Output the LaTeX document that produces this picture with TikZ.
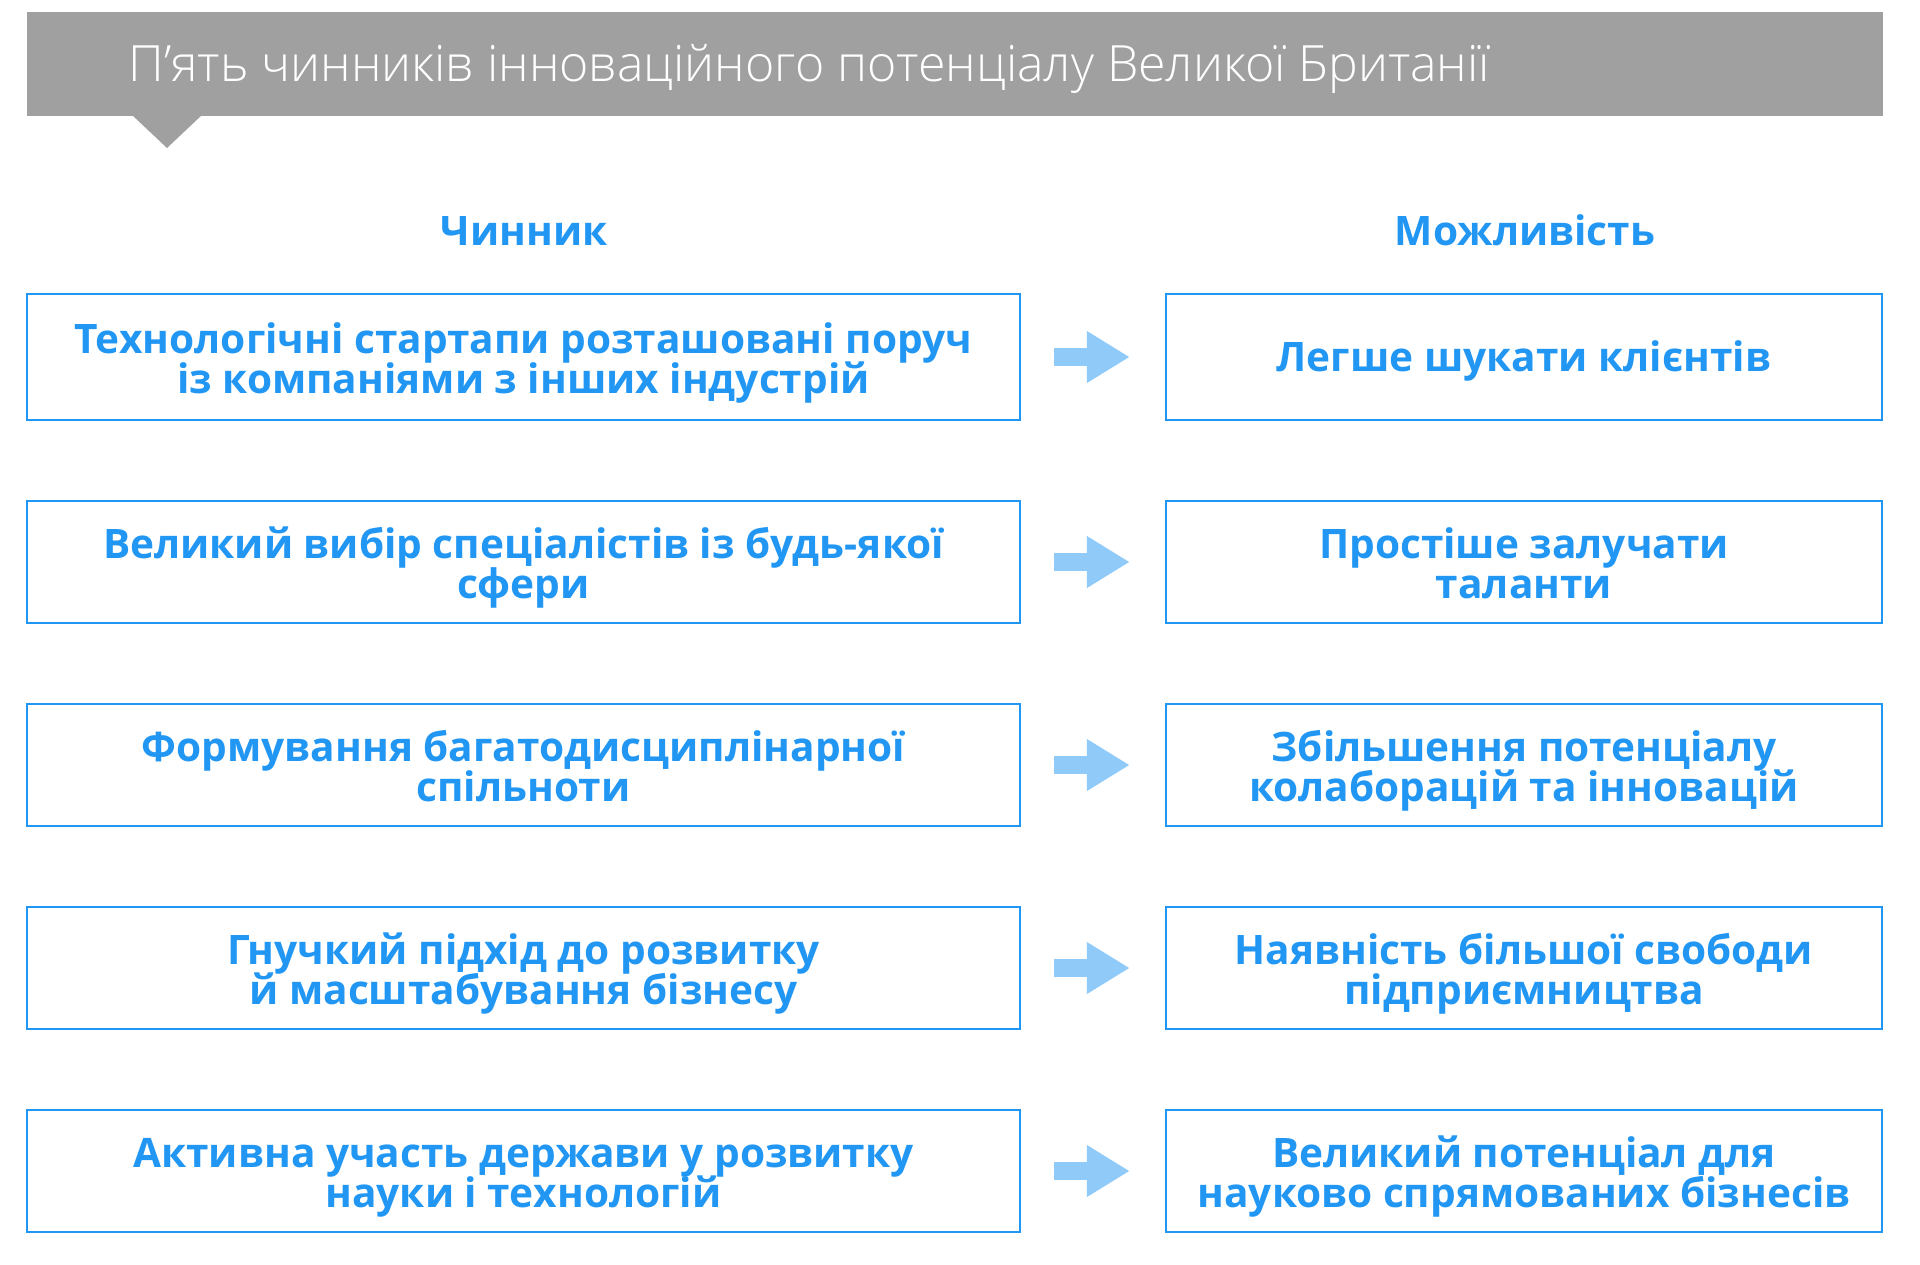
\documentclass[tikz,border=0pt]{standalone}
\usepackage{fontspec}
\setmainfont{Open Sans}
\IfFontExistsTF{Open Sans Light}{\newfontfamily\titlefont{Open Sans Light}}{\newfontfamily\titlefont{Open Sans}}
\usetikzlibrary{arrows.meta, positioning}
\definecolor{UKBlue}{RGB}{33, 150, 243}
\definecolor{UKGray}{RGB}{160, 160, 160}
\newcommand\boxfont{\fontsize{20.3}{20}\selectfont\bfseries\lineskiplimit -100pt\relax}

\begin{document}
\begin{tikzpicture}[x=0.5pt,y=-0.5pt,
  factor/.style={draw=UKBlue, line width=1.25pt, text=UKBlue, align=center, inner sep=0pt,
    minimum width=496.5pt, minimum height=61pt, text height=41pt, text depth=5pt, font=\boxfont},
  chance/.style={factor, minimum width=358pt},
  head/.style={text=UKBlue, inner sep=0pt, anchor=base, font=\boxfont},
  push/.style={UKBlue!50, line width=9pt, -{Triangle[length=21.5pt,width=24.5pt]},
    shorten <=16.5pt, shorten >=17.5pt}]
  \path[use as bounding box] (0,0) rectangle (1920,1264);
  % title bar
  \fill[UKGray] (27,12) rectangle (1883,116);
  \fill[UKGray] (132,115) -- (167,148) -- (202,115) -- cycle;
  \node[anchor=base west, inner sep=0pt, text=white, font=\titlefont\fontsize{25}{30}\selectfont] (title) at (128,81)
    {П’ять чинників інноваційного потенціалу Великої Британії};
  % column heads
  \node[head] (hf) at (524,245) {Чинник};
  \node[head] (ho) at (1525,245) {Можливість};
  % rows
  \node[factor, minimum height=63pt] (f1) at (523.5,357) {Технологічні стартапи розташовані поруч\\із компаніями з інших індустрій};
  \node[factor, below=39.25pt of f1] (f2) {Великий вибір спеціалістів із будь-якої\\сфери};
  \node[factor, below=39.25pt of f2] (f3) {Формування багатодисциплінарної\\спільноти};
  \node[factor, below=39.25pt of f3] (f4) {Гнучкий підхід до розвитку\\й масштабування бізнесу};
  \node[factor, below=39.25pt of f4] (f5) {Активна участь держави у розвитку\\науки і технологій};
  \node[chance, minimum height=63pt, text height=14.5pt, text depth=0pt, right=71.75pt of f1] (o1) {Легше шукати клієнтів};
  \node[chance, right=71.75pt of f2] (o2) {Простіше залучати\\таланти};
  \node[chance, right=71.75pt of f3] (o3) {Збільшення потенціалу\\колаборацій та інновацій};
  \node[chance, right=71.75pt of f4] (o4) {Наявність більшої свободи\\підприємництва};
  \node[chance, right=71.75pt of f5] (o5) {Великий потенціал для\\науково спрямованих бізнесів};
  \foreach \i in {1,...,5}{
    \draw[push] (f\i) -- (o\i);
  }
\end{tikzpicture}
\end{document}
